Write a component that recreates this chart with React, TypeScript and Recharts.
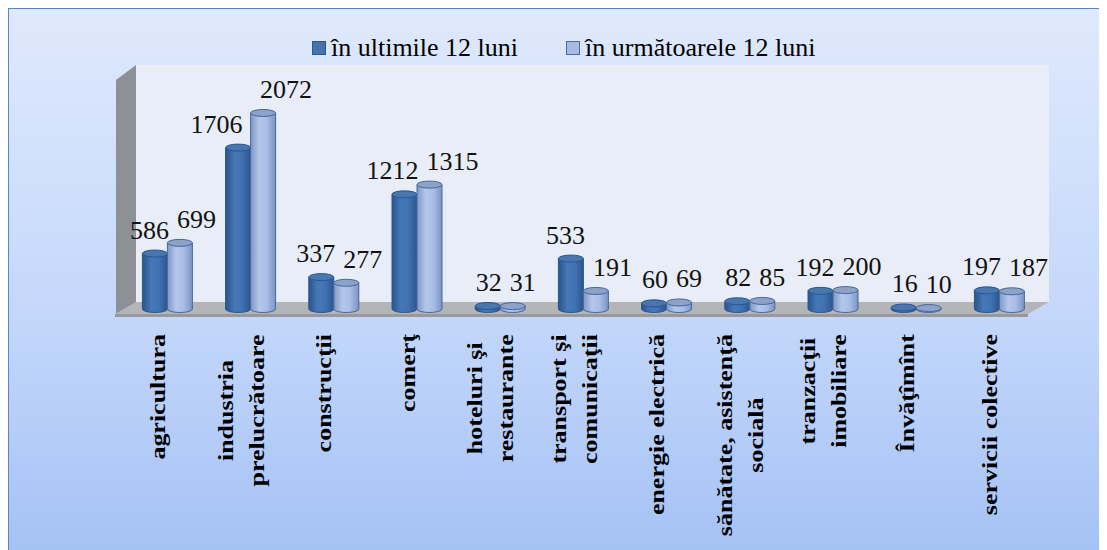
import { BarChart, Bar, XAxis, YAxis, LabelList } from 'recharts';

// categories (line breaks as in the original axis labels)
const categories = [
  'agricultura',
  'industria\nprelucrătoare',
  'construcţii',
  'comerţ',
  'hoteluri şi\nrestaurante',
  'transport şi\ncomunicaţii',
  'energie electrică',
  'sănătate, asistenţă\nsocială',
  'tranzacţii\nimobiliare',
  'Învăţîmînt',
  'servicii colective',
];
const last12 = [586, 1706, 337, 1212, 32, 533, 60, 82, 192, 16, 197];
const next12 = [699, 2072, 277, 1315, 31, 191, 69, 85, 200, 10, 187];
const seriesNames = ['în ultimile 12 luni', 'în următoarele 12 luni'];

const rows = categories.map((name, i) => ({ name, last: last12[i], next: next12[i] }));

const FONT = '"Liberation Serif", "Times New Roman", serif';

// rough Times Bold advance widths (per 1000 em) for centring multi-line labels
const BOLD_W: Record<string, number> = {
  a: 500, b: 556, c: 444, d: 556, e: 444, f: 333, g: 500, h: 556, i: 278, j: 333, k: 556,
  l: 278, m: 833, n: 556, o: 500, p: 556, q: 556, r: 444, s: 389, t: 333, u: 556, v: 500,
  w: 722, x: 500, y: 500, z: 444, ' ': 250, ',': 250, 'Î': 389, 'ă': 500, 'â': 500,
  'î': 278, 'ţ': 333, 'ş': 389,
};
const textW = (s: string, size: number) =>
  s.split('').reduce((acc, ch) => acc + (BOLD_W[ch] ?? 500), 0) * size / 1000;

const CategoryTick = (props: any) => {
  const { x, y, payload } = props;
  const lines = String(payload.value).split('\n');
  const size = 26;
  const maxW = Math.max(...lines.map((l) => textW(l, size)));
  const gap = 31;
  const cx = x - 7;
  return (
    <g transform={`translate(${cx},${y + 17})`}>
      {lines.map((line, i) => {
        const off = (i - (lines.length - 1) / 2) * gap + 5;
        return (
          <text
            key={i}
            transform={`translate(${off},0) rotate(-90) scale(1,0.8)`}
            x={-maxW / 2}
            y={0}
            textAnchor="middle"
            fontFamily={FONT}
            fontWeight="bold"
            fontSize={size}
            fill="#000"
          >
            {line}
          </text>
        );
      })}
    </g>
  );
};

const cylinder = (kind: 'dark' | 'light') => (props: any) => {
  const { x, y, width, height } = props;
  if (x == null || y == null) return null;
  const rx = width / 2;
  const ry = 3.5;
  const h = Math.max(height, 0);
  const stroke = kind === 'dark' ? '#2b568d' : '#46679e';
  const top = kind === 'dark' ? '#4a76b0' : '#8ea2c8';
  const body = `M${x},${y} L${x},${y + h} A${rx},${ry} 0 0 0 ${x + width},${y + h} L${x + width},${y} Z`;
  return (
    <g>
      <path d={body} fill={`url(#cyl-${kind})`} stroke={stroke} strokeWidth={1} />
      <ellipse cx={x + rx} cy={y} rx={rx} ry={ry} fill={top} stroke={stroke} strokeWidth={1} />
    </g>
  );
};

const valueLabel = (kind: 'dark' | 'light') => (props: any) => {
  const vb = props.viewBox ?? {};
  const x = props.x ?? vb.x;
  const y = props.y ?? vb.y;
  const width = props.width ?? vb.width;
  const height = props.height ?? vb.height ?? 0;
  if (x == null || y == null) return null;
  const isDark = kind === 'dark';
  const baseY = y - 15;
  let endX = x + width + 1.5;
  if (isDark && props.index != null) {
    // pull the label left when the neighbouring (taller) cylinder would cover it
    const row = rows[props.index];
    const k = row.last ? height / row.last : 0;
    const neighbourTop = y + height - row.next * k;
    if (neighbourTop < baseY) endX = x + 17;
  }
  return (
    <text
      x={isDark ? endX : x + width / 2 - 3}
      y={baseY}
      textAnchor={isDark ? 'end' : 'start'}
      fontFamily={FONT}
      fontSize={26}
      fill="#111"
    >
      {props.value}
    </text>
  );
};

function Backdrop() {
  // 3D walls and floor behind the bars (chart-space coordinates)
  return (
    <svg width={1098} height={541} style={{ position: 'absolute', left: 0, top: 0 }}>
      <defs>
        <linearGradient id="cyl-dark" x1="0" y1="0" x2="1" y2="0">
          <stop offset="0%" stopColor="#2a548c" />
          <stop offset="35%" stopColor="#4677b8" />
          <stop offset="65%" stopColor="#4272b2" />
          <stop offset="100%" stopColor="#2b578f" />
        </linearGradient>
        <linearGradient id="cyl-light" x1="0" y1="0" x2="1" y2="0">
          <stop offset="0%" stopColor="#7f97c6" />
          <stop offset="35%" stopColor="#b4c6ea" />
          <stop offset="65%" stopColor="#a9bde5" />
          <stop offset="100%" stopColor="#7c94c4" />
        </linearGradient>
      </defs>
      <rect x={127} y={56} width={913} height={238} fill="#e8edf7" />
      <polygon points="107,71 127,56 127,293 107,308" fill="#8d9095" />
      <polygon points="127,293 1040,293 1019,305 106,305" fill="#b3b5b8" />
      <polygon points="106,305 1019,305 1019,308 106,308" fill="#97999c" />
    </svg>
  );
}

function LegendBox() {
  const sq = (fill: string, border: string) => (
    <span
      style={{
        display: 'inline-block',
        width: 12,
        height: 12,
        background: fill,
        border: `1px solid ${border}`,
        marginRight: 5,
      }}
    />
  );
  return (
    <div
      style={{
        position: 'absolute',
        left: 303,
        top: 24,
        display: 'flex',
        alignItems: 'center',
        fontFamily: FONT,
        fontSize: 26,
        color: '#000',
        whiteSpace: 'nowrap',
      }}
    >
      {sq('#4673b0', '#2b568d')}
      <span>{seriesNames[0]}</span>
      <span style={{ width: 48 }} />
      {sq('#a6bbe3', '#4c6ca2')}
      <span>{seriesNames[1]}</span>
    </div>
  );
}

export default function App() {
  return (
    <div
      style={{
        position: 'relative',
        width: 1098,
        height: 541,
        borderLeft: '1px solid #5a86c4',
        borderTop: '1px solid #5a86c4',
        background: 'linear-gradient(to bottom, #dfe9fc 0%, #c5d8fb 55%, #a5c2f5 100%)',
      }}
    >
      <Backdrop />
      <LegendBox />
      <div style={{ position: 'absolute', left: 0, top: 0 }}>
        <BarChart
          width={1098}
          height={541}
          data={rows}
          margin={{ top: 63.5, right: 66.4, bottom: 0, left: 116.4 }}
          barGap={0}
          barSize={25}
        >
          <XAxis
            dataKey="name"
            interval={0}
            tick={(p: any) => <CategoryTick {...p} />}
            tickLine={false}
            axisLine={false}
            height={241}
          />
          <YAxis hide domain={[0, 2500]} />
          <Bar dataKey="last" shape={cylinder('dark')} isAnimationActive={false}>
            <LabelList dataKey="last" content={valueLabel('dark')} />
          </Bar>
          <Bar dataKey="next" shape={cylinder('light')} isAnimationActive={false}>
            <LabelList dataKey="next" content={valueLabel('light')} />
          </Bar>
        </BarChart>
      </div>
    </div>
  );
}
